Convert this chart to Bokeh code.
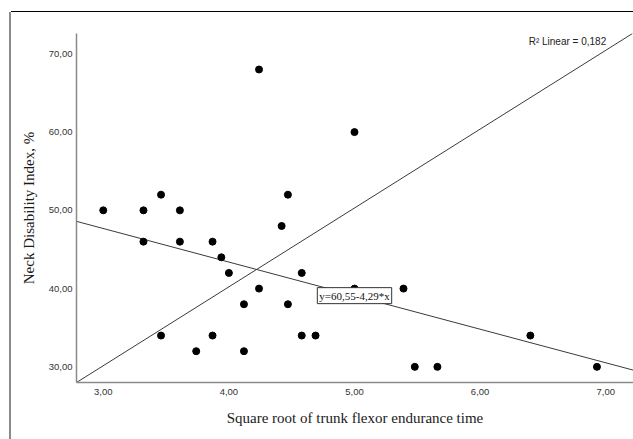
from bokeh.plotting import figure
from bokeh.models import Range1d, FixedTicker, Label
from bokeh.embed import file_html
from bokeh.resources import INLINE

# Data
x_vals = [4.24, 3.00, 3.32, 3.61, 3.46, 4.47, 5.00,
          3.32, 3.61, 3.87, 3.94, 4.00, 4.42, 4.24, 4.12,
          4.47, 4.58, 4.58, 4.69, 3.46, 3.87, 3.74, 4.12,
          5.00, 5.39, 6.40, 5.48, 5.66, 6.93]
y_vals = [68, 50, 50, 50, 52, 52, 60,
          46, 46, 46, 44, 42, 48, 40, 38,
          38, 42, 34, 34, 34, 34, 32, 32,
          40, 40, 34, 30, 30, 30]

fit_intercept = 60.55
fit_slope = -4.29
r2_text = "R\u00b2 Linear = 0,182"
eq_text = "y=60,55-4,29*x"

x_ticks = [3, 4, 5, 6, 7]
x_tick_labels = ["3,00", "4,00", "5,00", "6,00", "7,00"]
y_ticks = [30, 40, 50, 60, 70]
y_tick_labels = ["30,00", "40,00", "50,00", "60,00", "70,00"]

x_lo, x_hi_full = 2.787, 7.213
y_lo, y_hi = 28.0, 72.6
x_view_hi = 7.221

diag_x = [x_lo, x_hi_full]
diag_y = [y_lo, y_hi]
fit_x = [x_lo, x_view_hi]
fit_y = [fit_intercept + fit_slope * v for v in fit_x]

W, H = 622, 427
p = figure(width=W, height=H, output_backend="svg", toolbar_location=None,
           x_range=Range1d(x_lo, x_view_hi), y_range=Range1d(y_lo, y_hi),
           min_border_left=65, min_border_right=0, min_border_top=21,
           min_border_bottom=57)
p.margin = (12, 0, 0, 11)
p.styles = {"box-shadow": "-2px 0 0 0 #8a8a8a, 0 -1px 0 0 #000000"}
p.xgrid.visible = False
p.ygrid.visible = False
p.outline_line_color = None
p.background_fill_color = "white"
p.border_fill_color = "white"

for ax in (p.xaxis[0], p.yaxis[0]):
    ax.axis_line_color = "#8a8a8a"
    ax.axis_line_width = 1.5
    ax.major_tick_in = 0
    ax.major_tick_out = 0
    ax.minor_tick_in = 0
    ax.minor_tick_out = 0
    ax.major_label_text_font = "Liberation Sans"
    ax.major_label_text_font_size = "9.5px"
    ax.major_label_text_color = "#333333"
    ax.axis_label_text_font = "Liberation Serif"
    ax.axis_label_text_font_size = "15px"
    ax.axis_label_text_font_style = "normal"
    ax.axis_label_text_color = "#1a1a1a"

p.xaxis.ticker = FixedTicker(ticks=x_ticks)
p.xaxis.major_label_overrides = dict(zip(x_ticks, x_tick_labels))
p.yaxis.ticker = FixedTicker(ticks=y_ticks)
p.yaxis.major_label_overrides = dict(zip(y_ticks, y_tick_labels))
p.xaxis.axis_label = "Square root of trunk flexor endurance time"
p.yaxis.axis_label = "Neck Disability Index, %"
p.xaxis.major_label_standoff = 6
p.xaxis.axis_label_standoff = 12
p.yaxis.major_label_standoff = 4
p.yaxis.axis_label_standoff = 9

p.line(diag_x, diag_y, line_color="#3a3a3a", line_width=1)
p.line(fit_x, fit_y, line_color="#3a3a3a", line_width=1)
p.scatter(x_vals, y_vals, size=7, color="black")

eq_x = 5.0
p.add_layout(Label(x=eq_x, y=fit_intercept + fit_slope * eq_x, text=eq_text,
                   text_align="center", text_baseline="middle",
                   text_font="Liberation Serif", text_font_size="11px",
                   text_color="#111111", background_fill_color="white",
                   border_line_color="#333333", border_line_width=1,
                   padding=2))
p.add_layout(Label(x=7.004, y=71.57, text=r2_text, text_align="right",
                   text_baseline="middle", text_font="Liberation Sans",
                   text_font_size="10px", text_color="#222222"))

open("out.html", "w").write(file_html(p, INLINE))
